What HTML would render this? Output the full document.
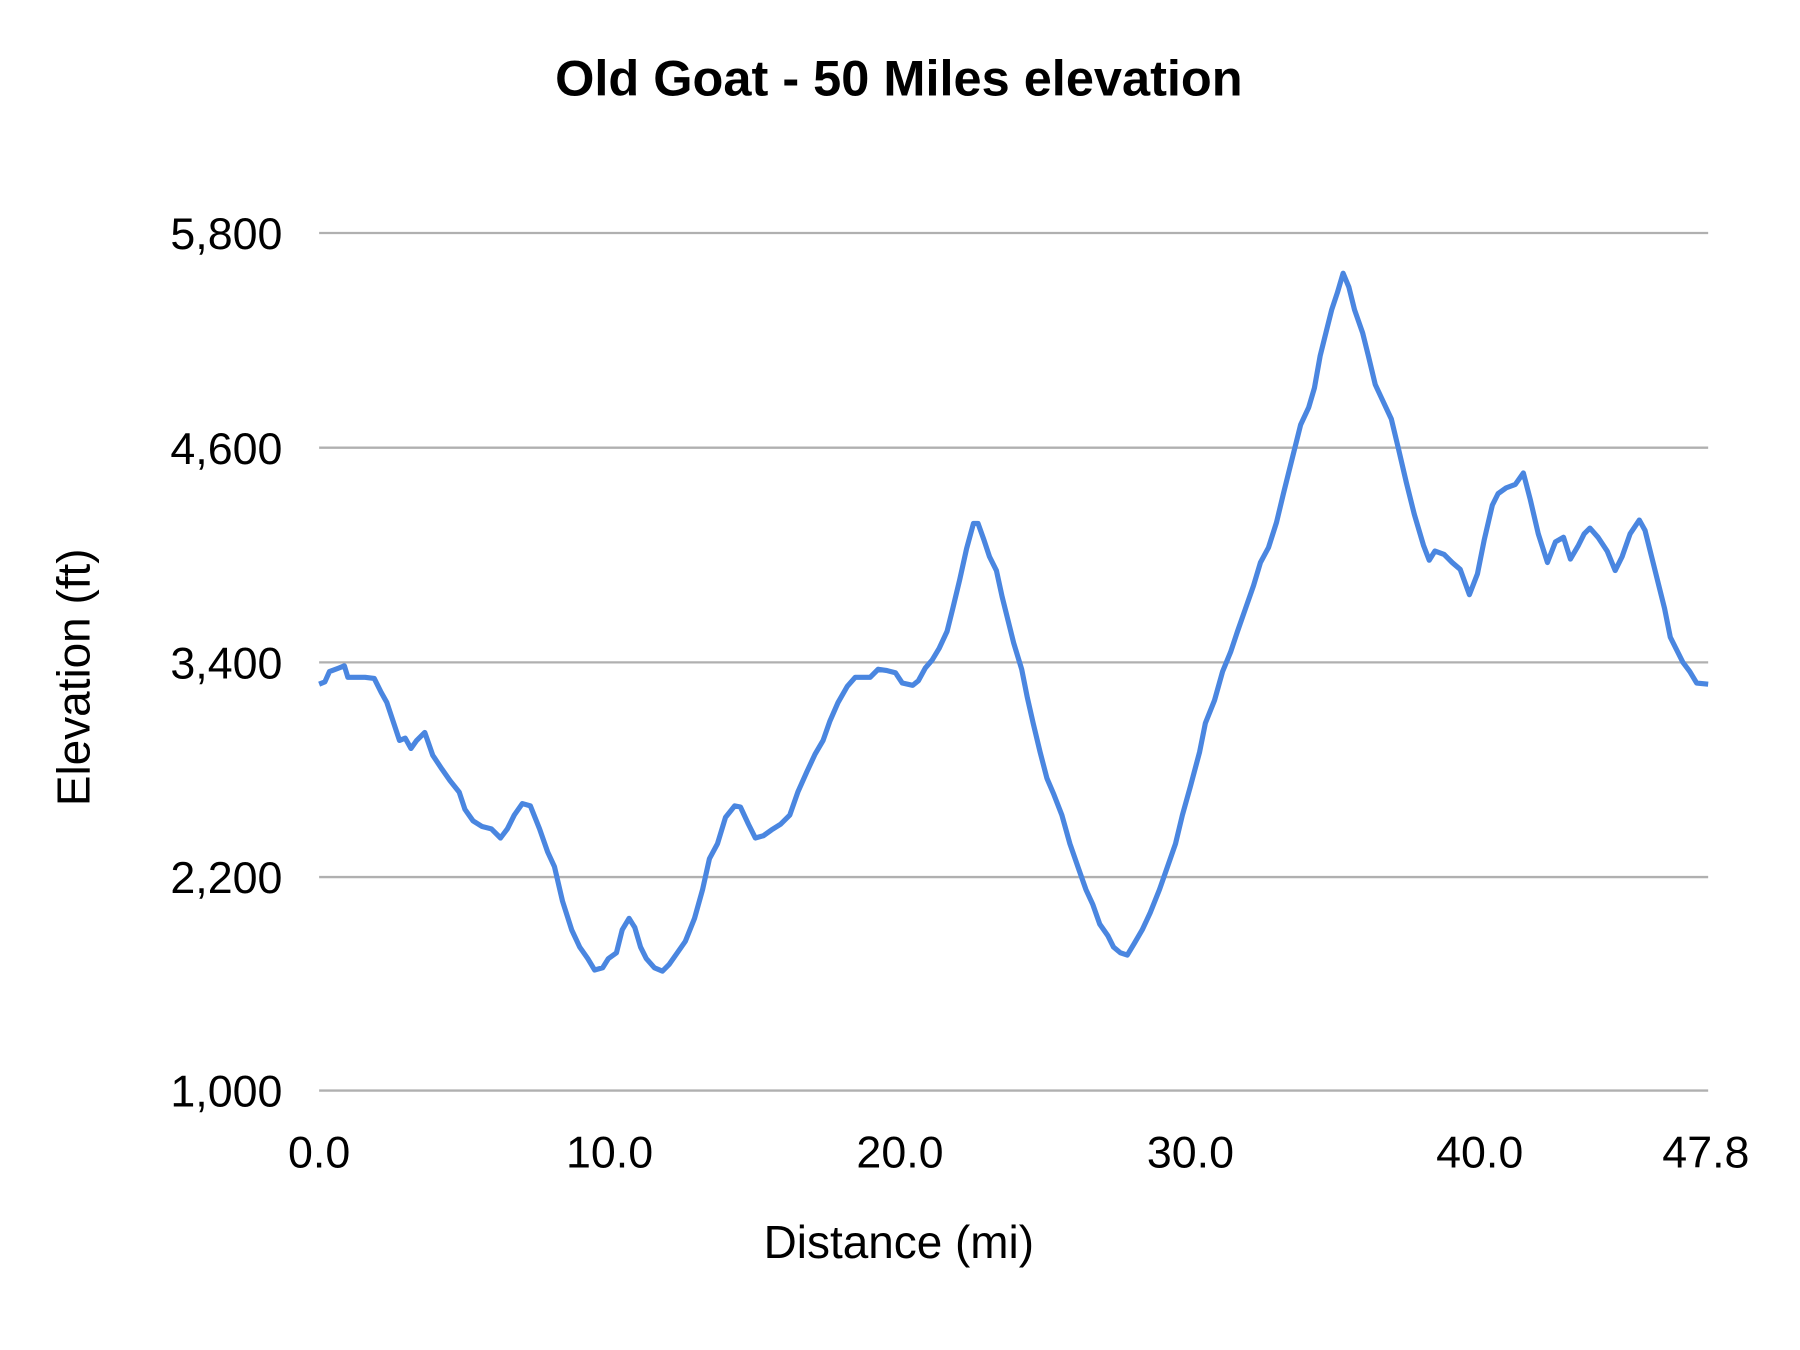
<!DOCTYPE html>
<html><head><meta charset="utf-8"><style>
html,body{margin:0;padding:0;background:#fff;}
svg{display:block;}
text{font-family:"Liberation Sans",sans-serif;fill:#000;}
</style></head><body>
<svg width="1800" height="1350" viewBox="0 0 1568 1176" xmlns="http://www.w3.org/2000/svg">
<rect width="1568" height="1176" fill="#fff"/>
<text x="783" y="83" text-anchor="middle" font-size="44" font-weight="bold">Old Goat - 50 Miles elevation</text>
<g stroke="#b0b0b0" stroke-width="2">
<line x1="278" x2="1488" y1="203" y2="203"/>
<line x1="278" x2="1488" y1="390" y2="390"/>
<line x1="278" x2="1488" y1="577" y2="577"/>
<line x1="278" x2="1488" y1="764" y2="764"/>
<line x1="278" x2="1488" y1="950" y2="950"/>
</g>
<g font-size="39" text-anchor="end">
<text x="246" y="217">5,800</text>
<text x="246" y="404">4,600</text>
<text x="246" y="591">3,400</text>
<text x="246" y="778">2,200</text>
<text x="246" y="964">1,000</text>
</g>
<g font-size="39" text-anchor="middle">
<text x="278" y="1017">0.0</text>
<text x="531" y="1017">10.0</text>
<text x="784" y="1017">20.0</text>
<text x="1037" y="1017">30.0</text>
<text x="1289" y="1017">40.0</text>
<text x="1486" y="1017">47.8</text>
</g>
<text x="783" y="1096" text-anchor="middle" font-size="40">Distance (mi)</text>
<text transform="translate(78,590) rotate(-90)" text-anchor="middle" font-size="40">Elevation (ft)</text>
<polyline fill="none" stroke="#4a86e0" stroke-width="4.5" stroke-linejoin="round" points="278,596 283,594 287,585 295,582 300,580 303,590 310,590 318,590 326,591 332,603 337,612 343,630 348,645 353,643 358,652 363,645 370,638 377,658 385,670 392,680 400,690 405,705 412,715 420,720 428,722 436,730 442,722 448,710 455,700 462,702 470,722 477,742 483,755 490,785 498,810 505,825 512,835 518,845 525,843 530,835 537,830 542,810 548,800 553,808 558,825 563,835 570,843 577,846 583,840 590,830 597,820 605,800 612,775 618,748 625,735 632,712 640,702 645,703 652,718 658,730 665,728 672,723 680,718 688,710 695,690 703,672 710,657 717,645 723,628 730,612 738,598 745,590 752,590 758,590 765,583 772,584 780,586 786,595 795,597 800,593 806,582 812,575 818,565 825,550 830,530 836,505 842,478 848,456 852,456 857,470 862,485 868,497 873,520 878,540 883,560 890,583 895,608 900,630 906,655 912,678 918,692 925,710 932,735 940,758 946,775 952,788 958,805 965,815 970,825 976,830 982,832 988,822 995,810 1002,795 1010,775 1017,755 1024,735 1030,710 1037,685 1045,655 1050,630 1058,610 1065,585 1072,568 1078,550 1085,530 1092,510 1098,490 1105,477 1112,455 1118,430 1123,410 1128,390 1133,370 1140,355 1145,338 1150,310 1155,290 1160,270 1165,255 1170,238 1175,250 1180,270 1187,290 1192,310 1198,335 1205,350 1212,365 1218,390 1225,420 1232,448 1240,475 1245,488 1250,480 1258,483 1265,490 1272,496 1280,518 1287,500 1293,470 1300,440 1305,430 1312,425 1320,422 1327,412 1333,435 1340,465 1348,490 1355,472 1362,468 1368,487 1375,475 1380,465 1385,460 1392,468 1400,480 1407,497 1413,485 1420,465 1428,453 1433,462 1440,490 1445,510 1450,530 1455,555 1460,565 1466,577 1472,585 1478,595 1488,596"/>
</svg>
</body></html>
